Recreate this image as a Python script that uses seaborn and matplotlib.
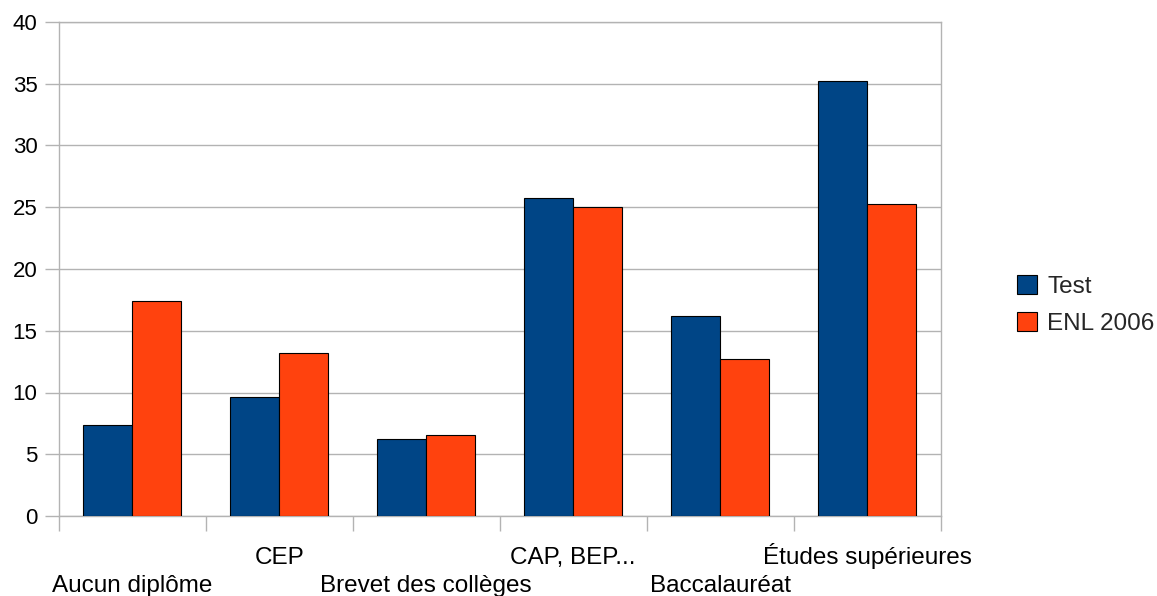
import matplotlib
matplotlib.use("Agg")
import matplotlib.pyplot as plt
import numpy as np
import pandas as pd
import seaborn as sns
from matplotlib.ticker import FixedLocator, NullFormatter

categories = ["Aucun diplôme", "CEP", "Brevet des collèges", "CAP, BEP...",
              "Baccalauréat", "Études supérieures"]
series_names = ["Test", "ENL 2006"]
test_values = [7.33, 9.64, 6.21, 25.77, 16.16, 35.23]
enl_values = [17.37, 13.21, 6.54, 24.99, 12.72, 25.28]
y_ticks = [0, 5, 10, 15, 20, 25, 30, 35, 40]

colors = ["#004586", "#ff420e"]
grid_gray = "#b3b3b3"

df = pd.DataFrame({
    "Diplôme": categories * 2,
    "Série": [series_names[0]] * len(categories) + [series_names[1]] * len(categories),
    "Valeur": test_values + enl_values,
})

sns.set_theme(style="white")
plt.rcParams["font.family"] = ["Liberation Sans", "DejaVu Sans"]

fig = plt.figure(figsize=(11.57, 5.96), dpi=100)
ax = fig.add_axes([59 / 1157, 1 - 516 / 596, (940.5 - 59) / 1157, (516 - 22) / 596])

sns.barplot(data=df, x="Diplôme", y="Valeur", hue="Série", order=categories,
            hue_order=series_names, palette=colors, width=2 / 3, gap=0,
            edgecolor="black", linewidth=0.8, saturation=1, ax=ax, zorder=3)

ax.set_xlim(-0.5, len(categories) - 0.5)
ax.set_ylim(0, 40)
ax.set_yticks(y_ticks)
ax.set_yticklabels([str(t) for t in y_ticks])
ax.yaxis.grid(True, color=grid_gray, linewidth=1.0, zorder=0)
ax.set_axisbelow(True)
ax.set_xlabel("")
ax.set_ylabel("")

# boundary ticks between categories; category names drawn on two staggered rows
ax.xaxis.set_major_locator(FixedLocator(np.arange(-0.5, len(categories), 1.0)))
ax.xaxis.set_major_formatter(NullFormatter())
ax.tick_params(axis="x", which="major", length=10.5, width=1.0, color=grid_gray,
               direction="out", bottom=True)
ax.tick_params(axis="y", length=10, width=1.0, color=grid_gray, pad=5.5,
               labelsize=16, labelcolor="black", left=True)

row_offsets = [-54.7, -34.6]  # baseline offsets in points below the axis
for i, name in enumerate(categories):
    ax.annotate(name, xy=(i, 0), xycoords=("data", "axes fraction"),
                xytext=(0, row_offsets[i % 2]), textcoords="offset points",
                ha="center", va="baseline", fontsize=17.5, color="black",
                annotation_clip=False)

for side in ["left", "right", "bottom", "top"]:
    ax.spines[side].set_visible(True)
    ax.spines[side].set_color(grid_gray)
    ax.spines[side].set_linewidth(1.0)

handles, labels = ax.get_legend_handles_labels()
ax.get_legend().remove()
fig.legend(handles, labels, loc="center left",
           bbox_to_anchor=(1017 / 1157, 1 - 305 / 596), frameon=False,
           fontsize=17.5, handlelength=0.82, handleheight=0.82,
           handletextpad=0.42, labelspacing=0.55, borderpad=0, borderaxespad=0)

fig.savefig("out.png", dpi=100, facecolor="white")
